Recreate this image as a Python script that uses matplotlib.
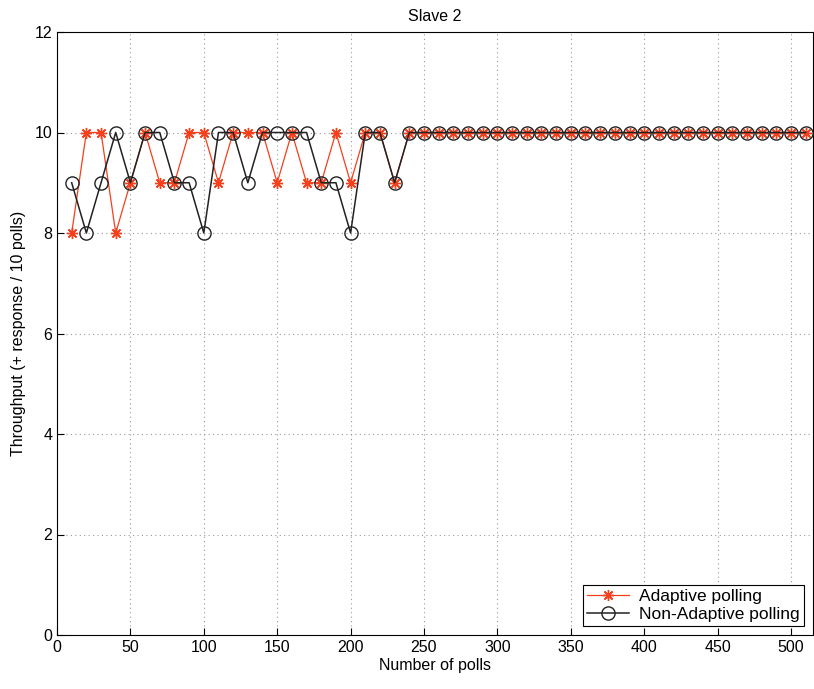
import matplotlib
matplotlib.use("Agg")
import matplotlib.pyplot as plt

plt.rcParams['font.family'] = ['Liberation Sans', 'DejaVu Sans']

# Poll counts (every 10 polls)
polls = [10, 20, 30, 40, 50, 60, 70, 80, 90, 100,
         110, 120, 130, 140, 150, 160, 170, 180, 190, 200,
         210, 220, 230, 240, 250, 260, 270, 280, 290, 300,
         310, 320, 330, 340, 350, 360, 370, 380, 390, 400,
         410, 420, 430, 440, 450, 460, 470, 480, 490, 500, 510]

adaptive = [8, 10, 10, 8, 9, 10, 9, 9, 10, 10,
            9, 10, 10, 10, 9, 10, 9, 9, 10, 9,
            10, 10, 9, 10, 10, 10, 10, 10, 10, 10,
            10, 10, 10, 10, 10, 10, 10, 10, 10, 10,
            10, 10, 10, 10, 10, 10, 10, 10, 10, 10, 10]

non_adaptive = [9, 8, 9, 10, 9, 10, 10, 9, 9, 8,
                10, 10, 9, 10, 10, 10, 10, 9, 9, 8,
                10, 10, 9, 10, 10, 10, 10, 10, 10, 10,
                10, 10, 10, 10, 10, 10, 10, 10, 10, 10,
                10, 10, 10, 10, 10, 10, 10, 10, 10, 10, 10]

x_ticks = [0, 50, 100, 150, 200, 250, 300, 350, 400, 450, 500]
y_ticks = [0, 2, 4, 6, 8, 10, 12]

fig = plt.figure(figsize=(8.14, 6.89), dpi=100)
ax = fig.add_axes([57 / 814, 1 - 635 / 689, (813 - 57) / 814, (635 - 32) / 689])

red = '#f4401c'
ax.plot(polls, adaptive, color=red, linewidth=0.9, marker=(8, 2, 0), markersize=8,
        markeredgewidth=1.0, markeredgecolor=red, label='Adaptive polling', zorder=3)
ax.plot(polls, non_adaptive, color='#222222', linewidth=1.1, marker='o',
        markersize=9.5, markerfacecolor='none', markeredgewidth=1.0,
        markeredgecolor='#222222', label='Non-Adaptive polling', zorder=4)

ax.set_xlim(0, 515)
ax.set_ylim(0, 12)
ax.set_xticks(x_ticks)
ax.set_yticks(y_ticks)
ax.tick_params(direction='in', length=5, labelsize=11.5, width=0.8)
ax.grid(True, linestyle=(0, (1, 3)), color='#999999', linewidth=0.8)
for s in ax.spines.values():
    s.set_linewidth(0.8)

ax.set_title('Slave 2', fontsize=11.5, pad=8)
ax.set_xlabel('Number of polls', fontsize=11.5, labelpad=2)
ax.set_ylabel('Throughput (+ response / 10 polls)', fontsize=11.5, labelpad=6)

leg = ax.legend(loc='lower right', fontsize=12.5, frameon=True, fancybox=False,
                edgecolor='black', framealpha=1, borderpad=0.25,
                handlelength=2.4, labelspacing=0.15, borderaxespad=0.5,
                handletextpad=0.6)
leg.get_frame().set_linewidth(0.8)

fig.savefig('out.png', dpi=100)
